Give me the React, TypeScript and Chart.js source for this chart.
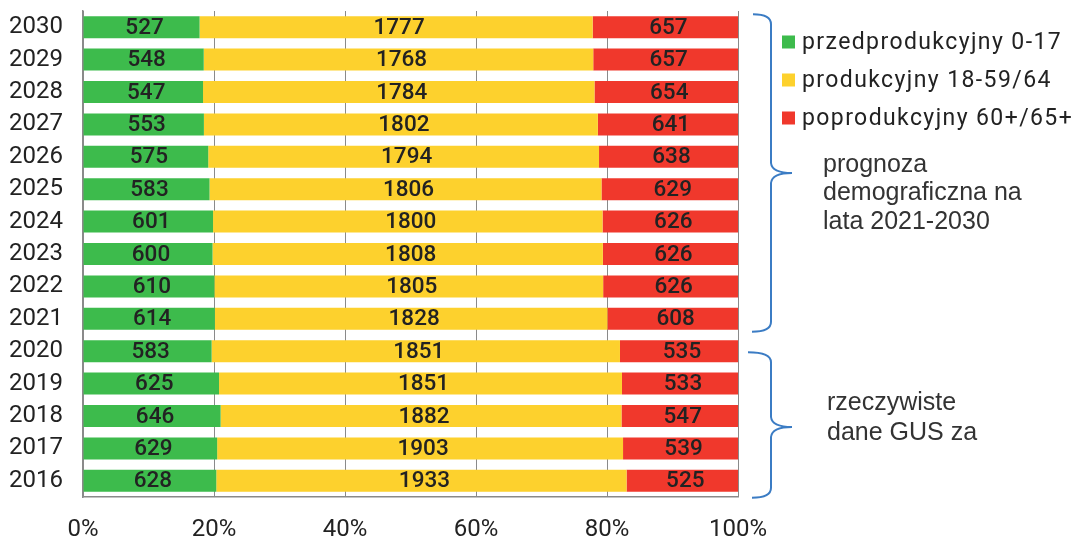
import React, { useEffect, useRef } from "react";
import { Chart, registerables } from "chart.js";

Chart.register(...registerables);

const years = ["2030", "2029", "2028", "2027", "2026", "2025", "2024", "2023", "2022", "2021", "2020", "2019", "2018", "2017", "2016"];
const preWorking = [527, 548, 547, 553, 575, 583, 601, 600, 610, 614, 583, 625, 646, 629, 628];
const working = [1777, 1768, 1784, 1802, 1794, 1806, 1800, 1808, 1805, 1828, 1851, 1851, 1882, 1903, 1933];
const postWorking = [657, 657, 654, 641, 638, 629, 626, 626, 626, 608, 535, 533, 547, 539, 525];
const seriesNames = ["przedprodukcyjny 0-17", "produkcyjny 18-59/64", "poprodukcyjny 60+/65+"];
const seriesColors = ["#3dbb4c", "#fdd12d", "#f0382c"];
const xTicks = [0, 20, 40, 60, 80, 100];
const forecastNote = ["prognoza", "demograficzna na", "lata 2021-2030"];
const actualNote = ["rzeczywiste", "dane GUS za"];

const raw = [preWorking, working, postWorking];
const totals = years.map((_, i) => preWorking[i] + working[i] + postWorking[i]);

const TEXT = "#222";
const BRACE = "#3b7cc4";

const overlayPlugin = {
  id: "overlay",
  afterDatasetsDraw(chart: any) {
    const ctx = chart.ctx;
    ctx.save();
    ctx.fillStyle = TEXT;
    ctx.font = "500 22.5px Roboto";
    ctx.textAlign = "center";
    ctx.textBaseline = "middle";
    chart.data.datasets.forEach((ds: any, di: number) => {
      const meta = chart.getDatasetMeta(di);
      meta.data.forEach((el: any, i: number) => {
        const { x, base, y } = el.getProps(["x", "base", "y"], true);
        ctx.fillText(String(raw[di][i]), (x + base) / 2 + 3, y + 1);
      });
    });
    ctx.restore();
  },
  afterDraw(chart: any) {
    const ctx = chart.ctx;
    const ys = chart.scales.y;
    ctx.save();
    // legend
    ctx.font = "23px Roboto";
    ctx.textBaseline = "middle";
    ctx.textAlign = "left";
    (ctx as any).letterSpacing = "1.4px";
    const legendY = [42, 80, 118];
    seriesNames.forEach((name, i) => {
      ctx.fillStyle = seriesColors[i];
      ctx.fillRect(782, legendY[i] - 6.5, 13, 13);
      ctx.fillStyle = TEXT;
      ctx.fillText(name, 802, legendY[i] + 1);
    });
    (ctx as any).letterSpacing = "0px";

    // braces
    const brace = (top: number, bottom: number, tip: number, xStart: number, xEnd: number) => {
      const xv = 771;
      const xt = 792;
      const r = 10;
      ctx.beginPath();
      ctx.moveTo(xStart, top);
      ctx.quadraticCurveTo(xv, top, xv, top + r);
      ctx.lineTo(xv, tip - r);
      ctx.quadraticCurveTo(xv + 1, tip, xt, tip);
      ctx.moveTo(xt, tip);
      ctx.quadraticCurveTo(xv + 1, tip, xv, tip + r);
      ctx.lineTo(xv, bottom - r);
      ctx.quadraticCurveTo(xv, bottom, xEnd, bottom);
      ctx.stroke();
    };
    ctx.strokeStyle = BRACE;
    ctx.lineWidth = 2;
    const c0 = ys.getPixelForValue(0);
    const c9 = ys.getPixelForValue(9);
    const c10 = ys.getPixelForValue(10);
    const c14 = ys.getPixelForValue(14);
    brace(c0 - 13, c9 + 13, (c0 + c9) / 2, 753, 752);
    brace(c10 + 1, c14 + 17, (c10 + c14) / 2 + 11, 748, 752);

    // notes
    ctx.fillStyle = "#333";
    ctx.font = "25px 'Liberation Sans', Arial, sans-serif";
    forecastNote.forEach((t, i) => ctx.fillText(t, 823, 165 + i * 28.5));
    actualNote.forEach((t, i) => ctx.fillText(t, 827, 403 + i * 30));
    ctx.restore();
  },
};

export default function App() {
  const ref = useRef<HTMLCanvasElement | null>(null);
  useEffect(() => {
    if (!ref.current) return;
    const chart = new Chart(ref.current, {
      type: "bar",
      data: {
        labels: years,
        datasets: raw.map((arr, di) => ({
          label: seriesNames[di],
          data: arr.map((v, i) => (v / totals[i]) * 100),
          backgroundColor: seriesColors[di],
          borderWidth: 0,
          barPercentage: 0.68,
          categoryPercentage: 1,
        })),
      },
      options: {
        indexAxis: "y",
        animation: false,
        responsive: true,
        maintainAspectRatio: false,
        layout: { padding: { left: 0, right: 336, top: 11, bottom: 0 } },
        plugins: { legend: { display: false }, tooltip: { enabled: false } },
        scales: {
          x: {
            stacked: true,
            min: 0,
            max: 100,
            afterBuildTicks(scale: any) {
              scale.ticks = xTicks.map((v) => ({ value: v }));
            },
            afterFit(scale: any) {
              scale.height = 42;
              scale.paddingLeft = 0;
              scale.paddingRight = 0;
            },
            ticks: {
              padding: 19,
              color: TEXT,
              font: { family: "Roboto", size: 24 },
              callback: (v: any) => v + "%",
            },
            grid: { color: "#8a8a8a", lineWidth: 1, drawTicks: false },
            border: { color: "#8a8a8a", width: 1.5 },
          },
          y: {
            stacked: true,
            afterFit(scale: any) {
              scale.width = 83;
              scale.paddingTop = 0;
              scale.paddingBottom = 0;
            },
            ticks: {
              padding: 20,
              color: TEXT,
              font: { family: "Roboto", size: 24 },
            },
            grid: { display: false, drawTicks: false },
            border: { color: "#8a8a8a", width: 1.5 },
          },
        },
      },
      plugins: [overlayPlugin],
    });
    return () => chart.destroy();
  }, []);
  return (
    <div style={{ position: "fixed", left: 0, top: 0, width: 1074, height: 539, background: "#fff" }}>
      <canvas ref={ref} />
    </div>
  );
}
